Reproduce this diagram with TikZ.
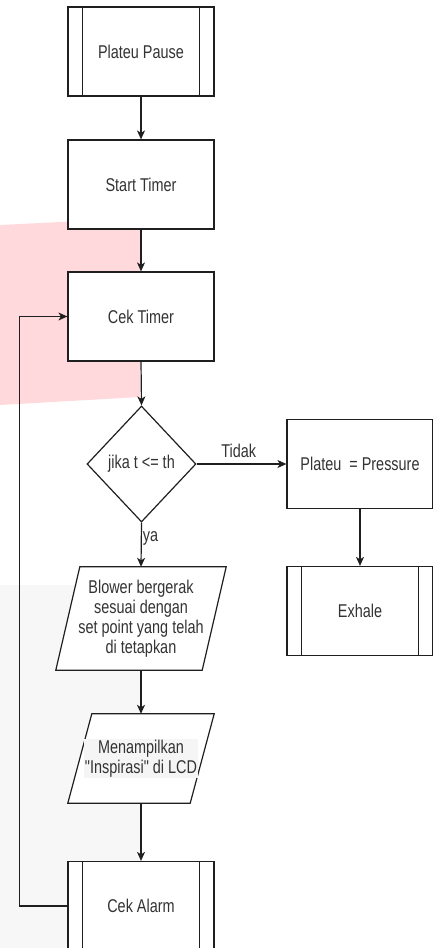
\documentclass[tikz,border=0pt]{standalone}
\usepackage{fontspec}
\newfontfamily\mainf{Liberation Sans}[FakeStretch=0.78]
\usetikzlibrary{arrows.meta,calc,shapes.geometric,backgrounds}
\definecolor{pinkbg}{HTML}{FFD9DB}
\definecolor{graybg}{HTML}{F7F7F7}
\definecolor{lblbg}{HTML}{F5F5F5}
\definecolor{txt}{HTML}{333333}
\definecolor{ln}{HTML}{1F1F1F}
\begin{document}
\begin{tikzpicture}[x=1pt,y=-1pt,
  every node/.style={font=\mainf\fontsize{18.5}{20}\selectfont, text=txt},
  box/.style={draw=ln, line width=1.2pt, fill=white, minimum width=146pt, minimum height=89pt, inner sep=0pt, align=center},
  ghost/.style={draw=none, inner sep=0pt, minimum width=146pt, align=center},
  line/.style={draw=ln, line width=1.2pt},
  arr/.style={line, -{Stealth[length=9pt,width=8pt,inset=2.5pt]}},
  lbl/.style={inner sep=1pt}
]
\useasboundingbox (0,0) rectangle (432,948);
\begin{scope}[on background layer]
  \fill[pinkbg] (0,225) -- (140,218) -- (140,397) -- (0,405) -- cycle;
  \fill[graybg] (0,585) rectangle (142,948);
\end{scope}

% nodes
\node[box] (pp) at (141,51.5) {Plateu Pause};
\node[box] (st) at (141,184.5) {Start Timer};
\node[box] (ct) at (141,316.5) {Cek Timer};
\node[draw=ln, line width=1.2pt, fill=white, diamond, minimum width=109pt, minimum height=116pt, inner sep=0pt] (d) at (141.5,464) {jika t <= th};
\node[box] (pr) at (360,464) {Plateu\ \ = Pressure};
\node[box] (ex) at (360,611) {Exhale};
\node[ghost, minimum height=103pt] (bl) at (141,618.5) {Blower bergerak\\sesuai dengan\\set point yang telah\\di tetapkan};
\node[ghost, minimum width=122pt, minimum height=89pt] (mn) at (141,758.5) {};
\node[fill=lblbg, inner sep=1pt, align=center] (mt) at (141,758.5) {Menampilkan\\"Inspirasi" di LCD};
\node[box] (ca) at (141,906) {Cek Alarm};

% subprocess side lines
\foreach \n in {pp,ex,ca}{
  \draw[line] ($(\n.north west)+(15,0)$) -- ($(\n.south west)+(15,0)$);
  \draw[line] ($(\n.north east)+(-15,0)$) -- ($(\n.south east)+(-15,0)$);
}

% parallelograms
\begin{scope}[on background layer]
  \draw[line, fill=white] ($(bl.north west)+(12,0)$) -- ($(bl.north east)+(12,0)$) -- ($(bl.south east)+(-12,0)$) -- ($(bl.south west)+(-12,0)$) -- cycle;
  \draw[line, fill=white] ($(mn.north west)+(12,0)$) -- ($(mn.north east)+(12,0)$) -- ($(mn.south east)+(-12,0)$) -- ($(mn.south west)+(-12,0)$) -- cycle;
\end{scope}

% connectors
\draw[arr] (pp.south) -- (st.north);
\draw[arr] (st.south) -- (ct.north);
\draw[arr] (ct.south) -- (d.north);
\draw[arr] (d.south) -- node[lbl, right, pos=0.36] {ya} (bl.north);
\draw[arr] (d.east) -- node[lbl, above=5pt, pos=0.47] {Tidak} (pr.west);
\draw[arr] (pr.south) -- (ex.north);
\draw[arr] (bl.south) -- (mn.north);
\draw[arr] (mn.south) -- (ca.north);
\draw[arr] (ca.west) -- ++(-48,0) |- (ct.west);
\end{tikzpicture}
\end{document}
